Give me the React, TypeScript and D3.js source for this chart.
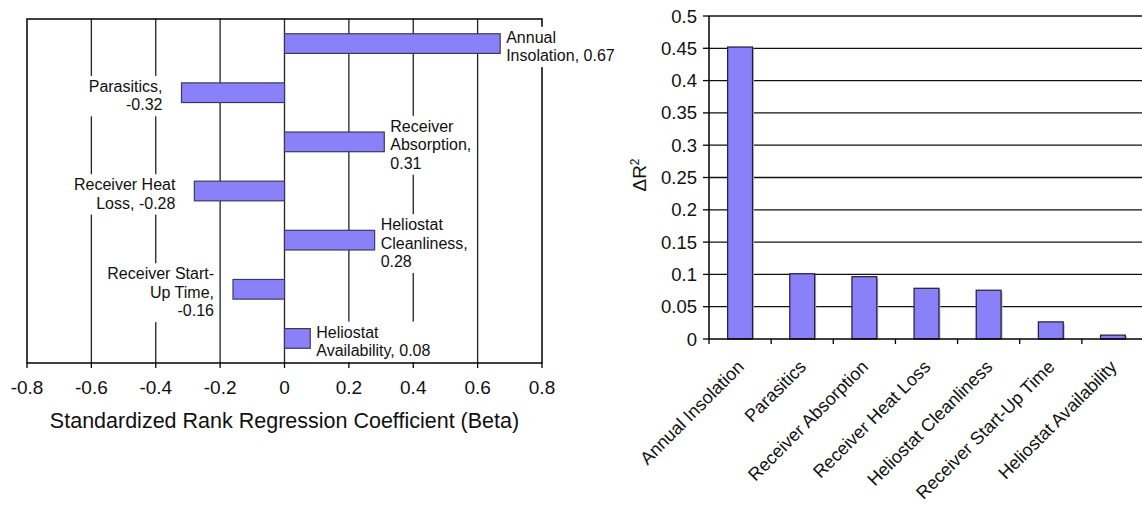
import React, { useEffect, useRef } from 'react';
import * as d3 from 'd3';

// left panel: standardized rank regression coefficients
const factors = [
  'Annual Insolation',
  'Parasitics',
  'Receiver Absorption',
  'Receiver Heat Loss',
  'Heliostat Cleanliness',
  'Receiver Start-Up Time',
  'Heliostat Availability',
];
const betaValues = [0.67, -0.32, 0.31, -0.28, 0.28, -0.16, 0.08];
const betaLabelLines = [
  ['Annual', 'Insolation, 0.67'],
  ['Parasitics,', '-0.32'],
  ['Receiver', 'Absorption,', '0.31'],
  ['Receiver Heat', 'Loss, -0.28'],
  ['Heliostat', 'Cleanliness,', '0.28'],
  ['Receiver Start-', 'Up Time,', '-0.16'],
  ['Heliostat', 'Availability, 0.08'],
];
const betaTicks = [-0.8, -0.6, -0.4, -0.2, 0, 0.2, 0.4, 0.6, 0.8];

// right panel: delta R^2
const r2Values = [0.452, 0.101, 0.0965, 0.0785, 0.0755, 0.0265, 0.006];
const r2Ticks = [0, 0.05, 0.1, 0.15, 0.2, 0.25, 0.3, 0.35, 0.4, 0.45, 0.5];

const FONT = '"Liberation Sans", Arial, sans-serif';
const BAR_FILL = '#8a80f8';
const BAR_STROKE = '#3c3a5c';

const App = () => {
  const svgRef = useRef<SVGSVGElement>(null);

  useEffect(() => {
    const svg = d3.select(svgRef.current);
    svg.selectAll('*').remove();
    svg.style('font-family', FONT);

    // ---------- left chart ----------
    const left = { x0: 27, x1: 542, y0: 19, y1: 363 };
    const x = d3.scaleLinear().domain([-0.8, 0.8]).range([left.x0, left.x1]);
    const y = d3.scaleBand<string>()
      .domain(factors)
      .range([left.y0, left.y1])
      .paddingInner(0.6)
      .paddingOuter(0.3);

    const gl = svg.append('g');

    // grid lines
    gl.selectAll('line.grid')
      .data(betaTicks.slice(1, -1))
      .join('line')
      .attr('class', 'grid')
      .attr('x1', d => x(d)).attr('x2', d => x(d))
      .attr('y1', left.y0).attr('y2', left.y1)
      .attr('stroke', '#222')
      .attr('stroke-width', 1.3);

    // frame
    gl.append('rect')
      .attr('x', left.x0).attr('y', left.y0)
      .attr('width', left.x1 - left.x0).attr('height', left.y1 - left.y0)
      .attr('fill', 'none')
      .attr('stroke', '#000')
      .attr('stroke-width', 1.5);

    // bars
    gl.selectAll('rect.bar')
      .data(betaValues)
      .join('rect')
      .attr('class', 'bar')
      .attr('x', d => Math.min(x(0), x(d)))
      .attr('width', d => Math.abs(x(d) - x(0)))
      .attr('y', (d, i) => y(factors[i])!)
      .attr('height', y.bandwidth())
      .attr('fill', BAR_FILL)
      .attr('stroke', BAR_STROKE)
      .attr('stroke-width', 1.2);

    // data labels with white boxes
    const fs = 16;
    const lh = 18.4;
    betaValues.forEach((v, i) => {
      const lines = betaLabelLines[i];
      const cy = y(factors[i])! + y.bandwidth() / 2;
      const neg = v < 0;
      const tx = neg ? x(v) - 19 : x(v) + 6;
      const firstBase = cy - ((lines.length - 1) * lh) / 2 + 8.4;
      const g = gl.append('g');
      const box = g.append('rect').attr('fill', '#fff');
      const t = g.append('text')
        .attr('font-size', fs)
        .attr('fill', '#111')
        .attr('text-anchor', neg ? 'end' : 'start');
      lines.forEach((s, k) => {
        t.append('tspan').attr('x', tx).attr('y', firstBase + k * lh).text(s);
      });
      const bb = (t.node() as SVGTextElement).getBBox();
      box.attr('x', bb.x - 4).attr('y', bb.y - 2)
        .attr('width', bb.width + 8).attr('height', bb.height + 5);
    });

    // axis ticks and labels
    gl.selectAll('line.tick')
      .data(betaTicks)
      .join('line')
      .attr('class', 'tick')
      .attr('x1', d => x(d)).attr('x2', d => x(d))
      .attr('y1', left.y1).attr('y2', left.y1 + 5)
      .attr('stroke', '#000')
      .attr('stroke-width', 1.3);

    gl.selectAll('text.tl')
      .data(betaTicks)
      .join('text')
      .attr('class', 'tl')
      .attr('x', d => x(d))
      .attr('y', 394)
      .attr('text-anchor', 'middle')
      .attr('font-size', 19)
      .attr('fill', '#111')
      .text(d => String(d));

    gl.append('text')
      .attr('x', x(0))
      .attr('y', 428)
      .attr('text-anchor', 'middle')
      .attr('font-size', 21.5)
      .attr('fill', '#111')
      .text('Standardized Rank Regression Coefficient (Beta)');

    // ---------- right chart ----------
    const right = { x0: 709, x1: 1144, y0: 16, y1: 339 };
    const xb = d3.scaleBand<string>()
      .domain(factors)
      .range([right.x0, right.x1])
      .paddingInner(0.6)
      .paddingOuter(0.3);
    const yr = d3.scaleLinear().domain([0, 0.5]).range([right.y1, right.y0]);

    const gr = svg.append('g');

    gr.selectAll('line.grid')
      .data(r2Ticks.slice(1))
      .join('line')
      .attr('class', 'grid')
      .attr('x1', right.x0).attr('x2', right.x1)
      .attr('y1', d => yr(d)).attr('y2', d => yr(d))
      .attr('stroke', '#111')
      .attr('stroke-width', 1.3);

    // bar shadows
    gr.selectAll('rect.shadow')
      .data(r2Values)
      .join('rect')
      .attr('class', 'shadow')
      .attr('x', (d, i) => xb(factors[i])! + 1.5)
      .attr('y', d => yr(d) + 1.5)
      .attr('width', xb.bandwidth())
      .attr('height', d => yr(0) - yr(d) - 1.5)
      .attr('fill', '#bbb');

    gr.selectAll('rect.bar')
      .data(r2Values)
      .join('rect')
      .attr('class', 'bar')
      .attr('x', (d, i) => xb(factors[i])!)
      .attr('y', d => yr(d))
      .attr('width', xb.bandwidth())
      .attr('height', d => yr(0) - yr(d))
      .attr('fill', BAR_FILL)
      .attr('stroke', '#1e1c3a')
      .attr('stroke-width', 1.2);

    // y axis
    gr.append('line')
      .attr('x1', right.x0).attr('x2', right.x0)
      .attr('y1', right.y0).attr('y2', right.y1)
      .attr('stroke', '#000').attr('stroke-width', 1.5);
    gr.selectAll('line.ytick')
      .data(r2Ticks)
      .join('line')
      .attr('class', 'ytick')
      .attr('x1', right.x0 - 6).attr('x2', right.x0)
      .attr('y1', d => yr(d)).attr('y2', d => yr(d))
      .attr('stroke', '#000').attr('stroke-width', 1.3);
    gr.selectAll('text.yl')
      .data(r2Ticks)
      .join('text')
      .attr('class', 'yl')
      .attr('x', right.x0 - 12)
      .attr('y', d => yr(d) + 6.5)
      .attr('text-anchor', 'end')
      .attr('font-size', 18.5)
      .attr('fill', '#111')
      .text(d => String(+d.toFixed(2)));

    // x axis
    gr.append('line')
      .attr('x1', right.x0).attr('x2', right.x1)
      .attr('y1', right.y1).attr('y2', right.y1)
      .attr('stroke', '#000').attr('stroke-width', 1.5);
    const step = xb.step();
    gr.selectAll('line.xtick')
      .data(d3.range(factors.length + 1))
      .join('line')
      .attr('class', 'xtick')
      .attr('x1', i => right.x0 + i * step).attr('x2', i => right.x0 + i * step)
      .attr('y1', right.y1).attr('y2', right.y1 + 5)
      .attr('stroke', '#000').attr('stroke-width', 1.3);
    gr.selectAll('text.xl')
      .data(factors)
      .join('text')
      .attr('class', 'xl')
      .attr('transform', d => `translate(${xb(d)! + xb.bandwidth() / 2 + 5},${right.y1 + 29}) rotate(-45)`)
      .attr('text-anchor', 'end')
      .attr('font-size', 18)
      .attr('fill', '#111')
      .text(d => d);

    // y title
    const yt = gr.append('text')
      .attr('transform', `translate(646,175) rotate(-90)`)
      .attr('text-anchor', 'middle')
      .attr('font-size', 19)
      .attr('fill', '#111');
    yt.append('tspan').text('ΔR');
    yt.append('tspan').attr('dy', -7).attr('font-size', 12).text('2');
  }, []);

  return (
    <svg
      ref={svgRef}
      width={1142}
      height={506}
      style={{ position: 'absolute', left: 0, top: 0, background: '#fff' }}
    />
  );
};

export default App;
